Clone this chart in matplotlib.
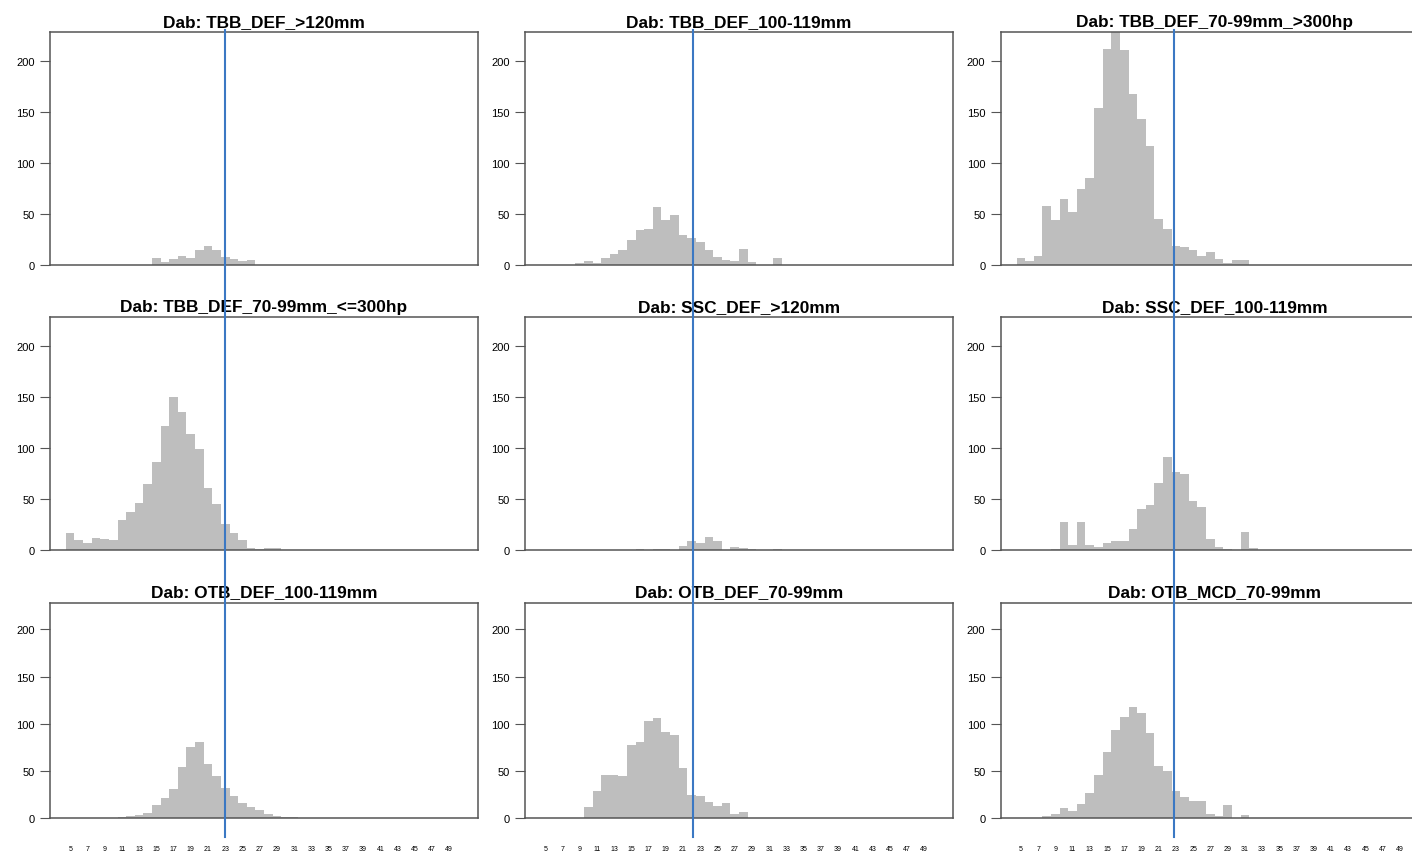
"""Dab length-frequency histograms by metier, 3x3 grid, R barplot look."""
import matplotlib
matplotlib.use("Agg")
import matplotlib.pyplot as plt
from matplotlib import transforms
from matplotlib.lines import Line2D

plt.rcParams["font.family"] = ["Liberation Sans", "DejaVu Sans"]

# length classes (cm), one bar each
lengths = list(range(5, 51))
tick_lengths = list(range(5, 50, 2))
y_ticks = [0, 50, 100, 150, 200]
y_max = 228

titles = [
    "Dab: TBB_DEF_>120mm", "Dab: TBB_DEF_100-119mm", "Dab: TBB_DEF_70-99mm_>300hp",
    "Dab: TBB_DEF_70-99mm_<=300hp", "Dab: SSC_DEF_>120mm", "Dab: SSC_DEF_100-119mm",
    "Dab: OTB_DEF_100-119mm", "Dab: OTB_DEF_70-99mm", "Dab: OTB_MCD_70-99mm",
]

# counts per length class 5..50
tbb_gt120 = [0, 0, 0, 0, 0, 0, 0, 0, 0, 0, 6.5, 3, 5.5, 9, 6.5, 15, 19, 15, 8, 5.5,
             3.5, 5, 0, 0, 0, 0, 0, 0, 0, 0, 0, 0, 0, 0, 0, 0, 0, 0, 0, 0,
             0, 0, 0, 0, 0, 0]
tbb_100_119 = [0, 0, 0, 0, 1.6, 3.9, 2.3, 6.8, 10.3, 14.5, 24.5, 34.5, 35.5, 56.8, 44.2, 49, 29, 26.1, 22.3, 14.5,
               7.7, 4.8, 4.2, 15.8, 3.2, 0, 0, 6.8, 0, 0, 0, 0, 0, 0, 0, 0, 0, 0, 0, 0,
               0, 0, 0, 0, 0, 0]
tbb_70_99_big = [7, 4, 9, 58, 44, 65, 52, 74, 85, 154, 211, 228, 210, 167, 143, 116, 45, 35, 19, 18,
                 15, 9, 13, 6, 2, 5, 5, 0, 0, 0, 0, 0, 0, 0, 0, 0, 0, 0, 0, 0,
                 0, 0, 0, 0, 0, 0]
tbb_70_99_small = [16.3, 9.5, 7.2, 11.4, 10.8, 9.5, 29, 37.6, 45.8, 64.4, 86.3, 121.6, 149.3, 135, 113.4, 98.7, 60.8, 44.8, 25.2, 16.3,
                   10.1, 1.6, 0.7, 1.6, 2.3, 0, 0, 0, 0, 0, 0, 0, 0, 0, 0, 0, 0, 0, 0, 0,
                   0, 0, 0, 0, 0, 0]
ssc_gt120 = [0, 0, 0, 0, 0, 0, 0, 0, 0, 0, 0, 1, 0.3, 1.3, 1.3, 0.3, 3.9, 8.8, 6.5, 12.4,
             8.5, 0.3, 2.6, 2, 0.7, 0.3, 0, 0.7, 0, 0, 0, 0, 0, 0, 0, 0, 0, 0, 0, 0,
             0, 0, 0, 0, 0, 0]
ssc_100_119 = [0, 0, 0, 0, 0.6, 27.4, 4.8, 27.4, 4.8, 3.2, 6.5, 8.7, 9, 21, 40.6, 43.9, 65.2, 91, 76.1, 74.8,
               48.4, 41.9, 10.3, 2.6, 0.6, 0, 17.7, 1.6, 0, 0, 0, 0, 0, 0, 0, 0, 0, 0, 0, 0,
               0, 0, 0, 0, 0, 0]
otb_100_119 = [0, 0, 0, 0, 0, 0.7, 1.8, 2.5, 3.5, 5.3, 13.7, 21.8, 30.6, 54.6, 75.7, 80.3, 57, 45, 32.4, 23.2,
               15.8, 12, 9.2, 4.6, 2.5, 1.8, 1.8, 0.7, 0, 0, 0, 0, 0, 0, 0, 0, 0, 0, 0, 0,
               0, 0, 0, 0, 0, 0]
otb_def_70_99 = [0, 0, 0, 0, 0, 12.3, 28.4, 46.3, 45.3, 44.6, 77.5, 80.7, 102.5, 105.6, 91.6, 88.4, 53, 24.9, 23.5, 17.2,
                 13.3, 15.8, 4.9, 7, 0, 0, 0, 0, 0, 0, 0, 0, 0, 0, 0, 0, 0, 0, 0, 0,
                 0, 0, 0, 0, 0, 0]
otb_mcd_70_99 = [0, 0, 0, 2.1, 4.6, 10.9, 7.7, 15.1, 26.7, 45.6, 70.2, 93.3, 106.7, 117.9, 110.9, 90.2, 55.8, 49.8, 28.8, 22.8,
                 17.9, 18.6, 4.9, 2.1, 13.7, 0.7, 3.9, 0, 0, 0, 0, 0, 0, 0, 0, 0, 0, 0, 0, 0,
                 0, 0, 0, 0, 0, 0]

panel_counts = [tbb_gt120, tbb_100_119, tbb_70_99_big,
                tbb_70_99_small, ssc_gt120, ssc_100_119,
                otb_100_119, otb_def_70_99, otb_mcd_70_99]

# reference line (MCRS-ish) per column, in length units
ref_line = [23.0, 22.2, 22.75]

W, H = 1412, 853
fig = plt.figure(figsize=(W / 100, H / 100), dpi=100)

col_left = [50, 525, 1000.7]
col_w = 428
rows = [(33, 266), (318, 551), (603.8, 819.3)]

pad = 0.04 * (len(lengths))
xlim = (lengths[0] - 0.5 - pad, lengths[-1] + 0.5 + pad)

axes = []
for k, counts in enumerate(panel_counts):
    r, c = divmod(k, 3)
    top, bot = rows[r]
    ax = fig.add_axes([col_left[c] / W, (H - bot) / H, col_w / W, (bot - top) / H])
    ax.bar(lengths, counts, width=1.0, color="#BEBEBE", linewidth=0)
    ax.set_xlim(*xlim)
    ax.set_ylim(0, y_max)
    ax.set_yticks(y_ticks)
    ax.tick_params(axis="y", labelsize=8, length=7, pad=4, color="#555555")
    if r == 2:
        ax.set_xticks(tick_lengths)
        ax.set_xticklabels([str(v) for v in tick_lengths])
        ax.tick_params(axis="x", labelsize=5, length=0, pad=19)
    else:
        ax.set_xticks([])
    for s in ax.spines.values():
        s.set_color("#555555")
        s.set_linewidth(1.1)
    ax.set_title(titles[k], fontsize=12.4, fontweight="bold", pad=4.5)
    axes.append(ax)

# one long vertical line per column, through all three rows
for c in range(3):
    tr = transforms.blended_transform_factory(axes[c].transData, fig.transFigure)
    fig.add_artist(Line2D([ref_line[c], ref_line[c]], [(H - 31) / H, (H - 838) / H],
                          transform=tr, color="#3B78C3", linewidth=1.5))

fig.savefig("out.png", dpi=100)
plt.close(fig)
